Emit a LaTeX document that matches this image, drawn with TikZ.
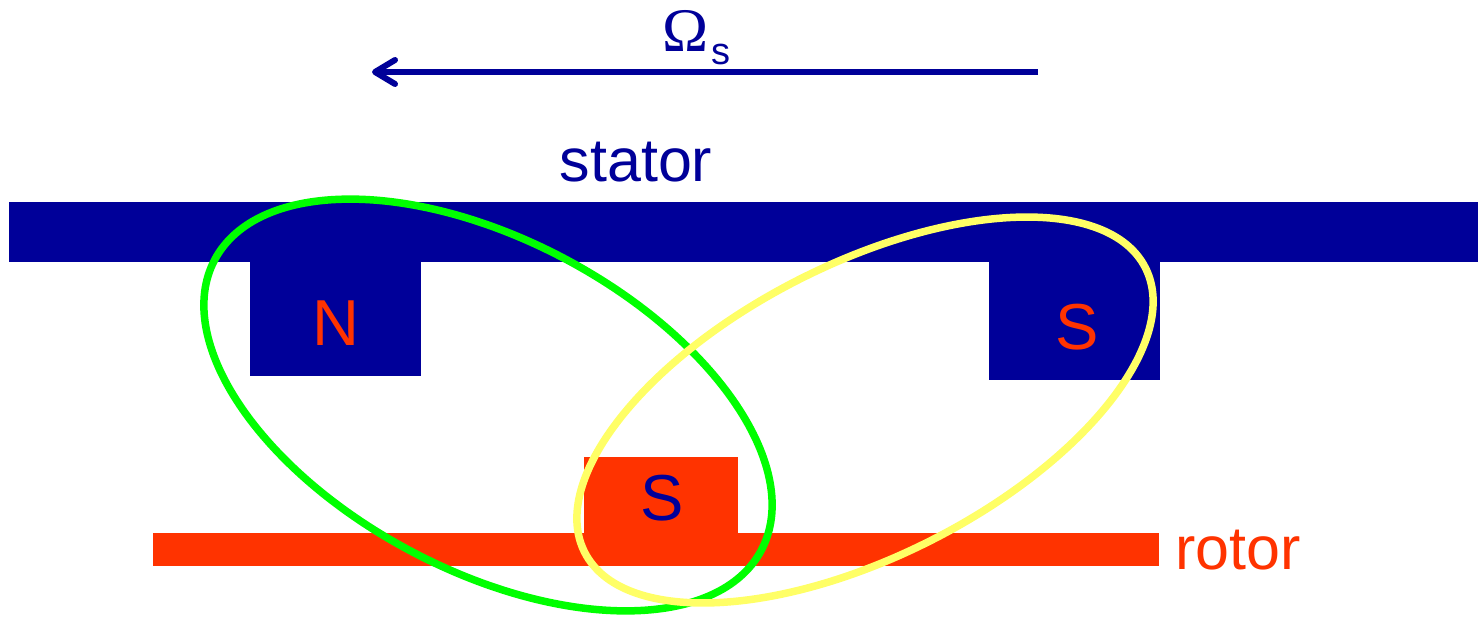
\documentclass[tikz,border=0pt]{standalone}
\usepackage{fontspec}
\setmainfont{Liberation Sans}
\newfontfamily\serifom{Liberation Serif}
\usetikzlibrary{arrows.meta}
\definecolor{sblue}{HTML}{000099}
\definecolor{rred}{HTML}{FF3300}
\definecolor{lgreen}{HTML}{00FF00}
\definecolor{lyellow}{HTML}{FFFF66}
\tikzset{
  statorpart/.style={fill=sblue,draw=none},
  rotorpart/.style={fill=rred,draw=none},
  bigtext/.style={inner sep=0pt,font=\fontsize{30.5}{36}\selectfont},
  poletext/.style={inner sep=0pt,font=\fontsize{32.5}{38}\selectfont,anchor=base},
  loop/.style={line width=3.75pt},
  arr/.style={draw=sblue,line width=3pt,-{Straight Barb[length=10pt,width=12pt,line cap=round,round]}}
}
\begin{document}
\begin{tikzpicture}[x=0.5pt,y=0.5pt]
\useasboundingbox (0,0) rectangle (1478,617);
% stator
\fill[statorpart] (9,415) rectangle (1478,355);
\fill[statorpart] (250,356) rectangle (421,241);
\fill[statorpart] (989,356) rectangle (1160,237);
% rotor
\fill[rotorpart] (153,84) rectangle (1159,51);
\fill[rotorpart] (584,160) rectangle (738,83);
% labels
\node[bigtext,anchor=base,text=sblue] (stator) at (636,435) {stator};
\node[bigtext,anchor=base west,text=rred] (rotor) at (1175,48) {rotor};
\node[poletext,text=rred] (N) at (336,272) {N};
\node[poletext,text=rred] (S1) at (1077,268) {S};
\node[poletext,text=sblue] (S2) at (662,97) {S};
% rotation arrow
\coordinate (as) at (1038,545);
\coordinate (ae) at (372,545);
\draw[arr] (as) -- (ae);
\node[inner sep=0pt,anchor=base,text=sblue,font=\serifom\fontsize{31}{36}\selectfont] (om) at (686,565) {Ω};
\node[inner sep=0pt,anchor=base west,text=sblue,font=\fontsize{19}{23}\selectfont] (oms) at (711,552) {s};
% flux loops
\draw[loop,lgreen,rotate around={-28:(488,212)}] (488,212) ellipse [x radius=309.5, y radius=165.2];
\draw[loop,lyellow,rotate around={26.9:(865,207)}] (865,207) ellipse [x radius=314.4, y radius=146.2];
\end{tikzpicture}
\end{document}
